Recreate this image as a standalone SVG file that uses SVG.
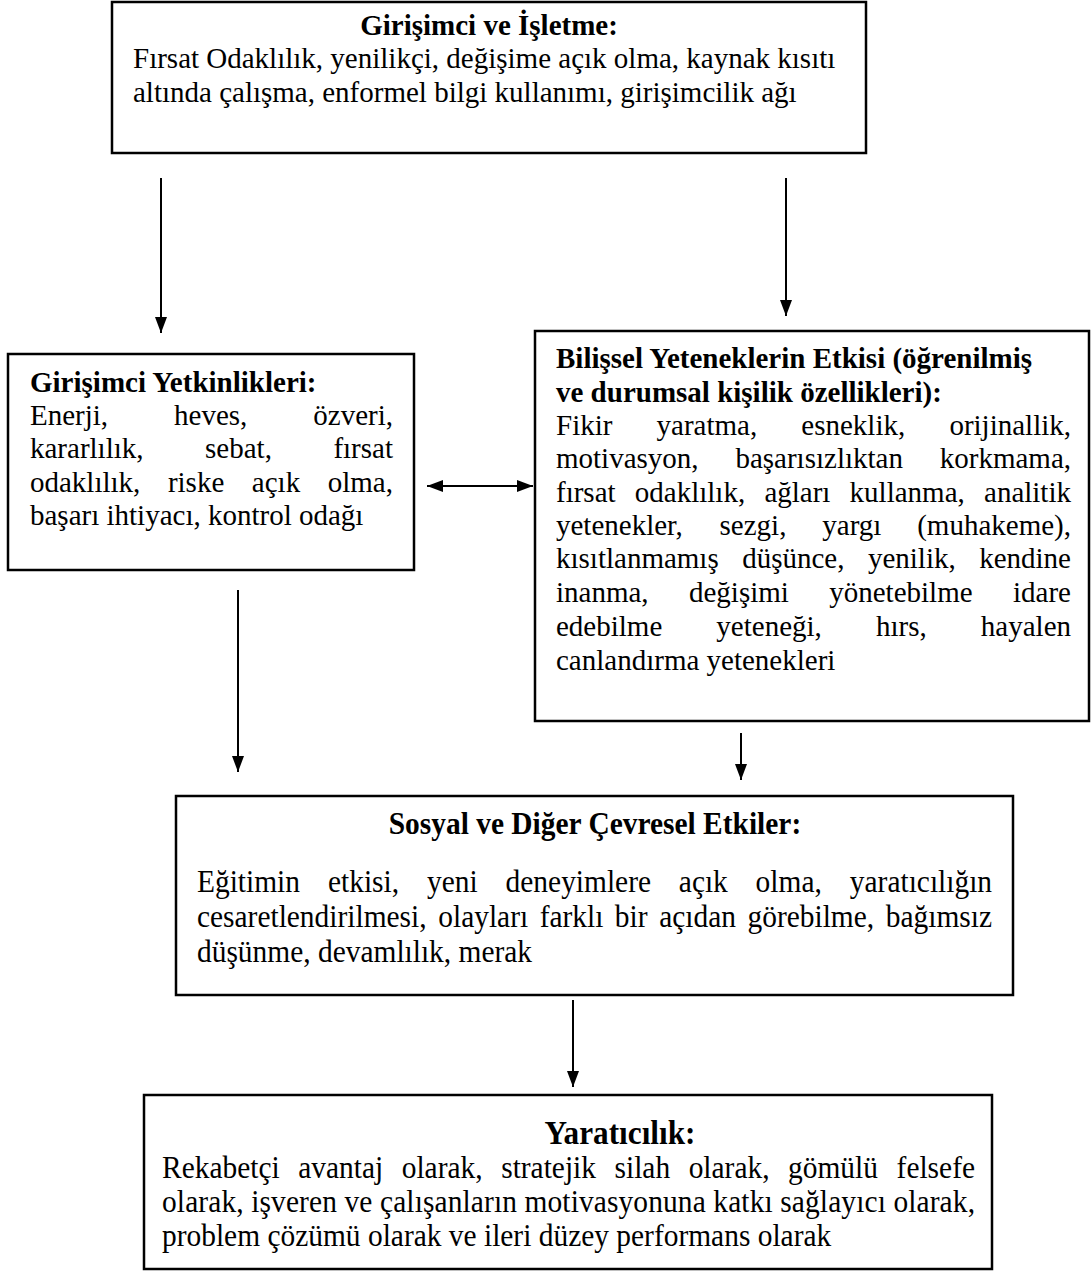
<svg xmlns="http://www.w3.org/2000/svg" width="1091" height="1273" viewBox="0 0 1091 1273">
<style>
text{font-family:'Liberation Serif','Times New Roman',serif;font-size:29px;fill:#000}
.b{font-weight:bold}
.m{text-anchor:middle}
.e{text-anchor:end}
.cd text{font-size:32px}
.box{fill:#fff;stroke:#000;stroke-width:2.5}
.ar{stroke:#000;stroke-width:2;fill:none;marker-end:url(#ah)}
</style>
<defs>
<marker id="ah" viewBox="0 0 16 12" refX="16" refY="6" markerWidth="16" markerHeight="12" markerUnits="userSpaceOnUse" orient="auto-start-reverse">
<path d="M0,0 L16,6 L0,12 z" fill="#000"/>
</marker>
</defs>
<rect width="1091" height="1273" fill="#fff"/>

<g id="n1">
<rect class="box" x="112" y="2" width="754" height="151"/>
<text class="b m" x="489" y="35">Girişimci ve İşletme:</text>
<text x="133" y="68">Fırsat Odaklılık, yenilikçi, değişime açık olma, kaynak kısıtı</text>
<text x="133" y="102">altında çalışma, enformel bilgi kullanımı, girişimcilik ağı</text>
</g>

<g id="n2">
<rect class="box" x="8" y="354" width="406" height="216"/>
<text class="b" x="30" y="392">Girişimci Yetkinlikleri:</text>
<text x="30" y="425">Enerji,</text><text class="m" x="210.7" y="425">heves,</text><text class="e" x="393" y="425">özveri,</text>
<text x="30" y="458">kararlılık,</text><text class="m" x="238.5" y="458">sebat,</text><text class="e" x="393" y="458">fırsat</text>
<text x="30" y="492">odaklılık,</text><text class="m" x="196.1" y="492">riske</text><text class="m" x="276" y="492">açık</text><text class="e" x="393" y="492">olma,</text>
<text x="30" y="525">başarı ihtiyacı, kontrol odağı</text>
</g>

<g id="n3">
<rect class="box" x="535" y="331" width="554" height="390"/>
<text class="b" x="556" y="368">Bilişsel Yeteneklerin Etkisi (öğrenilmiş</text>
<text class="b" x="556" y="402">ve durumsal kişilik özellikleri):</text>
<text x="556" y="435">Fikir</text><text class="m" x="706.9" y="435">yaratma,</text><text class="m" x="853.3" y="435">esneklik,</text><text class="e" x="1071" y="435">orijinallik,</text>
<text x="556" y="468">motivasyon,</text><text class="m" x="819.2" y="468">başarısızlıktan</text><text class="e" x="1071" y="468">korkmama,</text>
<text x="556" y="502">fırsat</text><text class="m" x="690" y="502">odaklılık,</text><text class="m" x="797.4" y="502">ağları</text><text class="m" x="907.2" y="502">kullanma,</text><text class="e" x="1071" y="502">analitik</text>
<text x="556" y="535">yetenekler,</text><text class="m" x="753" y="535">sezgi,</text><text class="m" x="851.8" y="535">yargı</text><text class="e" x="1071" y="535">(muhakeme),</text>
<text x="556" y="568">kısıtlanmamış</text><text class="m" x="793.3" y="568">düşünce,</text><text class="m" x="911.8" y="568">yenilik,</text><text class="e" x="1071" y="568">kendine</text>
<text x="556" y="602">inanma,</text><text class="m" x="738.9" y="602">değişimi</text><text class="m" x="900.9" y="602">yönetebilme</text><text class="e" x="1071" y="602">idare</text>
<text x="556" y="636">edebilme</text><text class="m" x="769.1" y="636">yeteneği,</text><text class="m" x="901.3" y="636">hırs,</text><text class="e" x="1071" y="636">hayalen</text>
<text x="556" y="670">canlandırma yetenekleri</text>
</g>

<g id="n4">
<rect class="box" x="176" y="796" width="837" height="199"/>
<g class="cd" transform="scale(0.92,1)">
<text class="b m" x="646.7" y="834">Sosyal ve Diğer Çevresel Etkiler:</text>
<text x="214.1" y="892">Eğitimin</text><text class="m" x="395.1" y="892">etkisi,</text><text class="m" x="491.6" y="892">yeni</text><text class="m" x="628.6" y="892">deneyimlere</text><text class="m" x="764.5" y="892">açık</text><text class="m" x="857.3" y="892">olma,</text><text class="e" x="1078.3" y="892">yaratıcılığın</text>
<text x="214.1" y="927">cesaretlendirilmesi,</text><text class="m" x="525.2" y="927">olayları</text><text class="m" x="621.2" y="927">farklı</text><text class="m" x="686.1" y="927">bir</text><text class="m" x="758.2" y="927">açıdan</text><text class="m" x="881.3" y="927">görebilme,</text><text class="e" x="1078.3" y="927">bağımsız</text>
<text x="214.1" y="962">düşünme, devamlılık, merak</text>
</g>
</g>

<g id="n5">
<rect class="box" x="144" y="1095" width="848" height="174"/>
<g class="cd" transform="scale(0.92,1)">
<text class="b m" x="673.9" y="1144" style="font-size:34px">Yaratıcılık:</text>
<text x="176.1" y="1178">Rekabetçi</text><text class="m" x="370.3" y="1178">avantaj</text><text class="m" x="480.6" y="1178">olarak,</text><text class="m" x="596.3" y="1178">stratejik</text><text class="m" x="698.2" y="1178">silah</text><text class="m" x="792.5" y="1178">olarak,</text><text class="m" x="905.4" y="1178">gömülü</text><text class="e" x="1059.8" y="1178">felsefe</text>
<text x="176.1" y="1212" textLength="883.7" lengthAdjust="spacing">olarak, işveren ve çalışanların motivasyonuna katkı sağlayıcı olarak,</text>
<text x="176.1" y="1246">problem çözümü olarak ve ileri düzey performans olarak</text>
</g>
</g>

<g id="connectors">
<line class="ar" x1="161" y1="178" x2="161" y2="333"/>
<line class="ar" x1="786" y1="178" x2="786" y2="316"/>
<line class="ar" x1="427" y1="486" x2="533" y2="486" style="marker-start:url(#ah)"/>
<line class="ar" x1="238" y1="590" x2="238" y2="772"/>
<line class="ar" x1="741" y1="733" x2="741" y2="780"/>
<line class="ar" x1="573" y1="1000" x2="573" y2="1087"/>
</g>
</svg>
